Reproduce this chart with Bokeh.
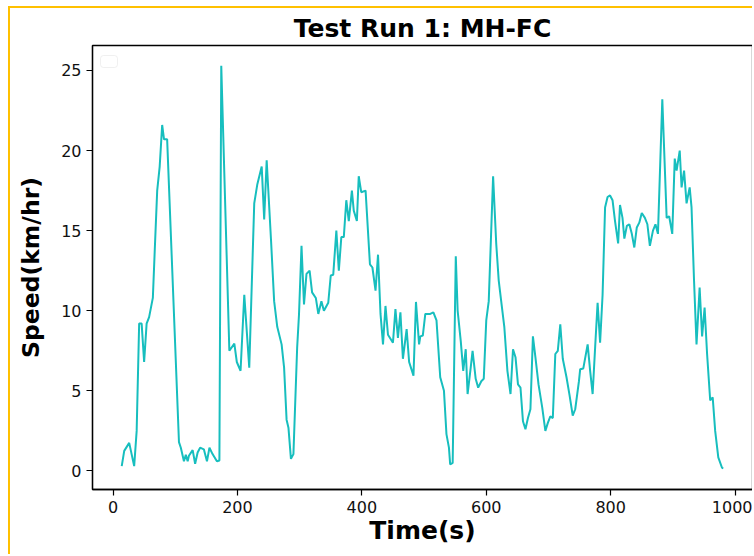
from bokeh.plotting import figure
from bokeh.models import Range1d, FixedTicker, BoxAnnotation
from bokeh.embed import file_html
from bokeh.resources import INLINE

# Test Run 1: MH-FC — speed trace
time_s = [14, 18, 26, 34, 38, 42, 46, 50, 54, 58, 64, 67, 71, 75, 79, 82, 87,
          106, 109, 114, 117, 120, 122, 128, 132, 136, 140, 146, 151, 155, 160, 167, 171,
          174, 187, 195, 199, 205, 211, 219, 227, 232, 239, 243, 247, 254, 259, 264,
          271, 275, 279, 282, 286, 290, 296, 299, 303, 307, 311, 316, 320, 326, 330,
          335, 339, 346, 350, 354, 359, 363, 367, 371, 375, 379, 384, 387, 392, 395,
          399, 406, 413, 417, 422, 426, 430, 434, 438, 442, 450, 454, 458, 462, 466,
          472, 476, 483, 487, 492, 494, 498, 502, 510, 515, 520, 526, 532, 536, 540,
          542, 546, 551, 554, 559, 563, 567, 570, 575, 578, 583, 587, 592, 596, 600,
          604, 611, 616, 620, 624, 629, 634, 639, 643, 647, 651, 655, 659, 663, 667,
          671, 675, 679, 684, 690, 695, 699, 703, 707, 711, 715, 719, 723, 729, 734,
          739, 743, 749, 751, 756, 763, 767, 771, 775, 779, 783, 787, 791, 795, 799,
          803, 807, 812, 815, 819, 822, 826, 830, 834, 838, 842, 846, 850, 855, 859,
          863, 868, 872, 876, 883, 890, 894, 899, 903, 906, 911, 914, 918, 922, 927,
          930, 934, 938, 943, 947, 951, 955, 960, 964, 968, 973, 979, 981]
speed_kmh = [0.3, 1.25, 1.75, 0.3, 2.5, 9.2, 9.2, 6.8, 9.2, 9.6, 10.8, 13.7, 17.5, 19.0, 21.6, 20.7, 20.7,
             1.8, 1.45, 0.6, 1.0, 0.6, 0.95, 1.3, 0.45, 1.15, 1.45, 1.35, 0.6, 1.45, 1.05, 0.6, 0.65,
             25.3, 7.5, 7.95, 6.8, 6.25, 11.0, 6.45, 16.7, 17.9, 19.0, 15.7, 19.4, 14.4, 10.6, 9.0,
             7.9, 6.45, 3.2, 2.7, 0.75, 1.05, 7.7, 9.8, 14.05, 10.4, 12.3, 12.5, 11.15, 10.8, 9.8,
             10.6, 10.0, 10.5, 12.2, 12.25, 15.0, 12.5, 14.6, 14.6, 16.9, 15.6, 17.5, 16.25, 15.6, 18.4,
             17.4, 17.5, 12.9, 12.7, 11.25, 13.5, 9.8, 7.9, 10.3, 8.5, 8.0, 10.1, 8.3, 9.9, 7.0,
             8.85, 6.8, 5.95, 10.55, 7.9, 8.4, 8.45, 9.8, 9.8, 9.9, 9.4, 5.85, 5.0, 2.3, 1.45,
             0.4, 0.5, 13.4, 10.0, 8.1, 6.25, 7.6, 4.8, 6.45, 7.5, 5.75, 5.2, 5.6, 5.75, 9.4,
             10.6, 18.4, 14.2, 11.9, 10.6, 9.0, 6.25, 4.8, 7.6, 7.1, 5.4, 5.2, 3.1, 2.6, 3.3,
             3.85, 8.4, 7.1, 5.4, 3.95, 2.5, 3.0, 3.4, 3.3, 7.3, 7.5, 9.15, 7.0, 5.85, 4.7,
             3.45, 3.85, 5.6, 6.35, 6.4, 7.9, 6.25, 4.8, 7.7, 10.5, 8.0, 11.0, 16.45, 17.1, 17.2,
             16.9, 15.6, 14.2, 16.6, 15.8, 14.5, 15.3, 15.4, 14.8, 13.95, 15.2, 15.5, 16.1, 15.8, 15.4,
             14.05, 15.0, 15.4, 14.8, 23.2, 15.8, 15.9, 14.8, 19.5, 18.75, 20.0, 17.7, 18.75, 16.7, 17.7,
             16.45, 11.9, 7.9, 11.45, 8.4, 10.2, 7.3, 4.4, 4.6, 2.5, 0.85, 0.2, 0.15]

x_ticks = [0, 200, 400, 600, 800, 1000]
y_ticks = [0, 5, 10, 15, 20, 25]

p = figure(width=744, height=548, output_backend="svg", toolbar_location=None,
           x_range=Range1d(-33, 1028), y_range=Range1d(-1.16, 26.56),
           min_border_left=82, min_border_right=2, min_border_top=36, min_border_bottom=67)

p.title.text = "Test Run 1: MH-FC"
p.title.align = "center"
p.title.text_font = "DejaVu Sans"
p.title.text_font_size = "25px"
p.title.text_font_style = "bold"
p.title.text_color = "black"
p.title.standoff = 6

p.line(time_s, speed_kmh, line_color="#17BEBE", line_width=2)

p.xgrid.visible = False
p.ygrid.visible = False
p.outline_line_color = "black"
p.outline_line_width = 1.3
p.outline_line_alpha = 1.0
p.background_fill_color = "white"
p.border_fill_color = "white"

for ax in (p.xaxis, p.yaxis):
    ax.axis_line_color = "black"
    ax.axis_line_width = 1.3
    ax.major_tick_line_color = "black"
    ax.major_tick_line_width = 1.2
    ax.major_tick_out = 6
    ax.major_tick_in = 0
    ax.minor_tick_line_color = None
    ax.major_label_text_font = "DejaVu Sans"
    ax.major_label_text_font_size = "16px"
    ax.major_label_text_color = "#111111"
    ax.major_label_standoff = 5
    ax.axis_label_text_font = "DejaVu Sans"
    ax.axis_label_text_font_style = "bold"
    ax.axis_label_text_color = "black"

p.xaxis.ticker = FixedTicker(ticks=x_ticks)
p.yaxis.ticker = FixedTicker(ticks=y_ticks)
p.xaxis.axis_label = "Time(s)"
p.yaxis.axis_label = "Speed(km/hr)"
p.xaxis.axis_label_text_font_size = "25px"
p.yaxis.axis_label_text_font_size = "23.5px"
p.xaxis.axis_label_standoff = 0
p.yaxis.axis_label_standoff = 13

# empty legend frame (top-left corner of the axes)
legend_box = BoxAnnotation(left=8, right=25, top=434, bottom=422,
                           left_units="screen", right_units="screen",
                           top_units="screen", bottom_units="screen",
                           fill_color="white", fill_alpha=1.0,
                           line_color="#cccccc", line_width=1, border_radius=3)
p.add_layout(legend_box)

p.styles = {"margin-left": "8px", "margin-top": "6px",
            "border-left": "2px solid #FFC000", "border-top": "2px solid #FFC000"}

open("out.html", "w").write(file_html(p, INLINE))
